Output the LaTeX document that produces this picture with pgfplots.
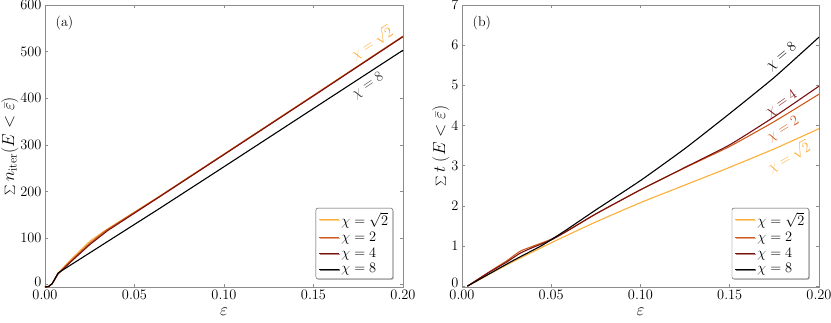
\documentclass[border=0pt]{standalone}
\usepackage{pgfplots}
\pgfplotsset{compat=1.18}
\usetikzlibrary{shadows}
\definecolor{cA}{HTML}{FDAE38}
\definecolor{cB}{HTML}{CF5A1C}
\definecolor{cC}{HTML}{7A1010}
\definecolor{cD}{HTML}{000000}
\definecolor{frame}{HTML}{8C8C8C}
\pgfplotsset{
  myaxis/.style={
    scale only axis, width=358pt, height=282pt,
    xmin=0, xmax=0.2,
    xtick={0,0.05,0.1,0.15,0.2},
    xticklabel style={/pgf/number format/.cd,fixed,fixed zerofill,precision=2},
    scaled x ticks=false,
    axis line style={frame, line width=0.8pt},
    tick style={frame, line width=0.6pt},
    tick align=inside, tick pos=both,
    major tick length=3pt,
    ticklabel style={font=\fontsize{13.5}{15}\selectfont},
    label style={font=\fontsize{16.5}{18}\selectfont},
    xlabel={$\varepsilon$},
    xlabel style={yshift=-1pt},
    legend cell align=left,
    legend style={at={(0.972,0.028)}, anchor=south east, draw=black!70, rounded corners=2pt,
      fill=white, drop shadow={shadow xshift=1pt, shadow yshift=-1pt, opacity=0.5},
      font=\fontsize{14}{16}\selectfont, row sep=1pt, inner sep=2.5pt},
    legend image code/.code={\draw[#1, line width=1pt] (0pt,0pt) -- (20pt,0pt);},
    every axis plot/.append style={line width=1.1pt, line join=round},
  }
}
\begin{document}
\begin{tikzpicture}
\path[use as bounding box] (0,0) rectangle (831pt,322pt);
\begin{axis}[myaxis, at={(45pt,35pt)}, anchor=south west,
  ymin=-5, ymax=600, ytick={0,100,200,300,400,500,600},
  yticklabels={{\raisebox{6pt}{$0$}},$100$,$200$,$300$,$400$,$500$,$600$},
  ylabel={$\sum n_{\mathrm{iter}}(E<\bar{\varepsilon})$},
  ylabel style={yshift=-5pt}]
\addplot[cA] coordinates {(0,-5) (0.002,-4) (0.004,2) (0.0073,25) (0.015,56) (0.025,93) (0.0335,116) (0.0642,190) (0.1,280) (0.15,406) (0.2,533)};
\addlegendentry{$\chi=\sqrt{2}$}
\addplot[cB] coordinates {(0,-5) (0.002,-4) (0.004,2) (0.0073,24) (0.015,53) (0.025,89) (0.034,116) (0.0642,190) (0.1,280) (0.15,406) (0.2,533)};
\addlegendentry{$\chi=2$}
\addplot[cC] coordinates {(0,-5) (0.002,-4) (0.004,2) (0.0073,23) (0.015,51) (0.025,86) (0.035,116) (0.0642,189) (0.1,279) (0.15,405) (0.2,532)};
\addlegendentry{$\chi=4$}
\addplot[cD] coordinates {(0,-5) (0.002,-4) (0.004,2) (0.0073,25) (0.0642,164) (0.1,253) (0.15,378) (0.2,503)};
\addlegendentry{$\chi=8$}
\node[anchor=north west, font=\fontsize{14}{16}\selectfont] at (rel axis cs:0.02,0.975) {(a)};
\node[cA, rotate=33, font=\fontsize{14}{16}\selectfont] at (axis cs:0.1825,519) {$\chi=\sqrt{2}$};
\node[black!80, rotate=34, font=\fontsize{14}{16}\selectfont] at (axis cs:0.1804,427) {$\chi=8$};
\end{axis}
\begin{axis}[myaxis, at={(462pt,35pt)}, anchor=south west, width=357pt,
  ymin=-0.02, ymax=7, ytick={0,1,2,3,4,5,6,7},
  yticklabels={{\raisebox{6pt}{$0$}},$1$,$2$,$3$,$4$,$5$,$6$,$7$},
  ylabel={$\sum t\;(E<\bar{\varepsilon})$},
  ylabel style={yshift=-5pt},
  every axis plot/.append style={smooth, tension=0.3}]
\addplot[cA] coordinates {(0.003,0) (0.025,0.53) (0.05,1.08) (0.075,1.6) (0.1,2.08) (0.125,2.52) (0.15,2.96) (0.175,3.42) (0.2,3.92)};
\addlegendentry{$\chi=\sqrt{2}$}
\addplot[cB] coordinates {(0.003,0) (0.015,0.35) (0.025,0.63) (0.0325,0.87) (0.04,1.0) (0.05,1.17) (0.06,1.41) (0.075,1.8) (0.1,2.4) (0.125,2.95) (0.15,3.48) (0.175,4.1) (0.2,4.78)};
\addlegendentry{$\chi=2$}
\addplot[cC] coordinates {(0.003,0) (0.015,0.34) (0.025,0.6) (0.0325,0.82) (0.04,0.97) (0.05,1.15) (0.06,1.4) (0.075,1.8) (0.1,2.4) (0.125,2.96) (0.15,3.52) (0.175,4.22) (0.2,4.98)};
\addlegendentry{$\chi=4$}
\addplot[cD] coordinates {(0.003,0) (0.025,0.55) (0.0325,0.73) (0.045,1.02) (0.0577,1.38) (0.075,1.9) (0.1,2.63) (0.125,3.43) (0.15,4.3) (0.175,5.2) (0.2,6.2)};
\addlegendentry{$\chi=8$}
\node[anchor=north west, font=\fontsize{14}{16}\selectfont] at (rel axis cs:0.02,0.975) {(b)};
\node[black, rotate=40, font=\fontsize{14}{16}\selectfont] at (axis cs:0.179,5.72) {$\chi=8$};
\node[cC, rotate=35, font=\fontsize{14}{16}\selectfont] at (axis cs:0.179,4.55) {$\chi=4$};
\node[cB, rotate=32, font=\fontsize{14}{16}\selectfont] at (axis cs:0.18,3.9) {$\chi=2$};
\node[cA, rotate=30, font=\fontsize{14}{16}\selectfont] at (axis cs:0.183,3.22) {$\chi=\sqrt{2}$};
\end{axis}
\end{tikzpicture}
\end{document}
